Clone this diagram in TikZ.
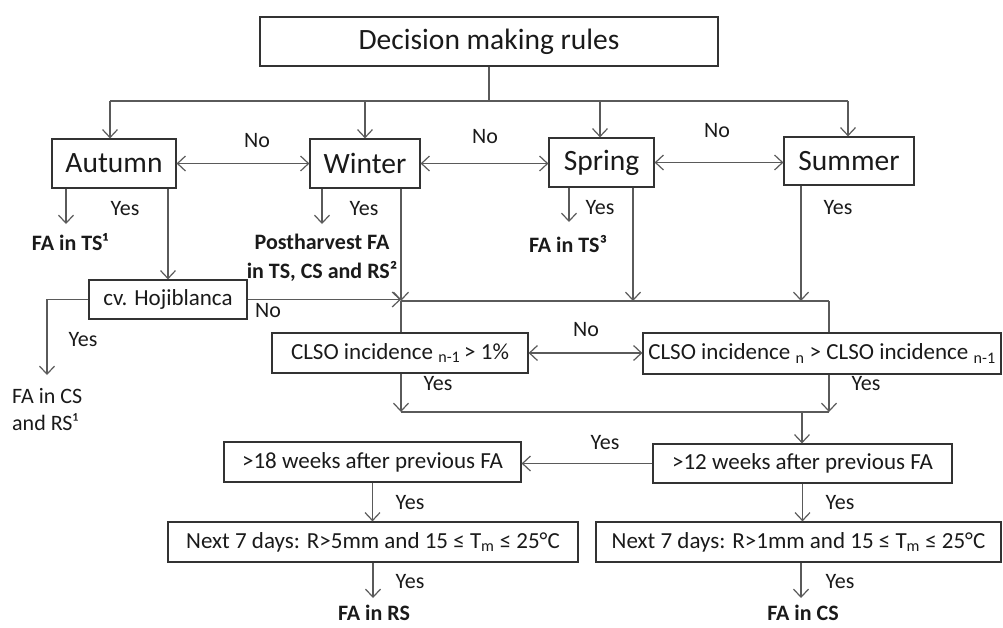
\documentclass[tikz,border=0pt]{standalone}
\usepackage{fontspec}
\setmainfont{Carlito}
\usetikzlibrary{arrows.meta}
\definecolor{lc}{HTML}{5A5A5A}
\definecolor{bc}{HTML}{333333}
\definecolor{tc}{HTML}{1A1A1A}
\begin{document}
\begin{tikzpicture}[x=1pt,y=-1pt,
 box/.style={draw=bc, line width=1.2pt, text=tc, inner sep=0pt, font=\fontsize{23}{27}\selectfont},
 big/.style={font=\fontsize{29.5}{34}\selectfont},
 lbl/.style={text=tc, inner sep=0pt, font=\fontsize{22}{26}\selectfont},
 blbl/.style={text=tc, inner sep=0pt, font=\fontsize{22}{29}\selectfont\bfseries, align=center},
 ln/.style={draw=lc, line width=1.2pt},
 arr/.style={ln, -{Straight Barb[length=8pt,width=15pt]}},
 darr/.style={ln, {Straight Barb[length=8pt,width=15pt]}-{Straight Barb[length=8pt,width=15pt]}}]
\useasboundingbox (0,0) rectangle (1003,627);

% boxes
\node[box,big,minimum width=458pt,minimum height=49pt] (title) at (489,41.5) {Decision making rules};
\node[box,big,minimum width=124pt,minimum height=49pt] (autumn) at (114,163.5) {Autumn};
\node[box,big,minimum width=110pt,minimum height=49pt] (winter) at (365,163.5) {Winter};
\node[box,big,minimum width=105pt,minimum height=49pt] (spring) at (601.5,162.5) {Spring};
\node[box,big,minimum width=130pt,minimum height=48pt] (summer) at (849,161) {Summer};
\node[box,minimum width=158pt,minimum height=39pt] (hoj) at (168,299.5) {cv. Hojiblanca};
\node[box,minimum width=256pt,minimum height=40pt] (c1) at (400,353) {CLSO incidence \textsubscript{n-1}\,> 1\%};
\node[box,minimum width=358pt,minimum height=41pt] (c2) at (822,353.5) {CLSO incidence \textsubscript{n} > CLSO incidence \textsubscript{n-1}};
\node[box,minimum width=297pt,minimum height=40pt] (w18) at (372.5,462) {>18 weeks after previous FA};
\node[box,minimum width=299pt,minimum height=39pt] (w12) at (802.5,463.5) {>12 weeks after previous FA};
\node[box,minimum width=410pt,minimum height=40pt] (d5) at (373,542) {Next 7 days: R>5mm and 15 ≤ T\textsubscript{m} ≤ 25°C};
\node[box,minimum width=405pt,minimum height=40pt] (d1) at (798.5,542) {Next 7 days: R>1mm and 15 ≤ T\textsubscript{m} ≤ 25°C};

% results
\node[blbl] (rA) at (70,242) {FA in TS¹};
\node[blbl] (rW) at (322,258) {Postharvest FA\\in TS, CS and RS²};
\node[blbl] (rS) at (568,244) {FA in TS³};
\node[lbl, align=left, font=\fontsize{22}{27}\selectfont, anchor=west] (rH) at (12,410) {FA in CS\\and RS¹};
\node[blbl] (rRS) at (374,613) {FA in RS};
\node[blbl] (rCS) at (803,613) {FA in CS};

% labels
\node[lbl] (no1) at (257,141) {No};
\node[lbl] (no2) at (485,137) {No};
\node[lbl] (no3) at (717,131) {No};
\node[lbl] (no4) at (268,311) {No};
\node[lbl] (no5) at (586,330) {No};
\node[lbl] (y1) at (125,209) {Yes};
\node[lbl] (y2) at (364,209) {Yes};
\node[lbl] (y3) at (600,208) {Yes};
\node[lbl] (y4) at (838,208) {Yes};
\node[lbl] (y5) at (83,340) {Yes};
\node[lbl] (y6) at (438,384) {Yes};
\node[lbl] (y7) at (866,384) {Yes};
\node[lbl] (y8) at (605,443) {Yes};
\node[lbl] (y9) at (410,503) {Yes};
\node[lbl] (y10) at (840,503) {Yes};
\node[lbl] (y11) at (410,582) {Yes};
\node[lbl] (y12) at (840,582) {Yes};

% coordinates
\coordinate (t0) at (489,101);
\coordinate (bA) at (110,101);
\coordinate (bW) at (365,101);
\coordinate (bS) at (600,101);
\coordinate (bU) at (848,101);
\coordinate (aY) at (66,224);
\coordinate (wY) at (322,224);
\coordinate (sY) at (569,222);
\coordinate (m1) at (401,301);
\coordinate (m2) at (829,301);
\coordinate (sD) at (633,301);
\coordinate (uD) at (801,301);
\coordinate (m3) at (401,412);
\coordinate (m4) at (829,412);
\coordinate (m5) at (802,412);
\coordinate (hY) at (47,375);
\coordinate (e5) at (373,598);
\coordinate (e1) at (801,598);

% connectors
\draw[ln] (title.south) -- (t0);
\draw[ln] (bA) -- (bU);
\draw[arr] (bA) -- (bA |- autumn.north);
\draw[arr] (bW) -- (bW |- winter.north);
\draw[arr] (bS) -- (bS |- spring.north);
\draw[arr] (bU) -- (bU |- summer.north);
\draw[darr] (autumn.east) -- (autumn.east -| winter.west);
\draw[darr] (winter.east) -- (winter.east -| spring.west);
\draw[darr] (spring.east) -- (spring.east -| summer.west);
\draw[arr] (aY |- autumn.south) -- (aY);
\draw[arr] (wY |- winter.south) -- (wY);
\draw[arr] (sY |- spring.south) -- (sY);
\draw[arr] (autumn.south -| hoj.north) -- (hoj.north);
\draw[arr] (hoj.west) -| (hY);
\draw[arr] (winter.south -| m1) -- (m1);
\draw[arr] (hoj.east) -- (hoj.east -| m1);
\draw[arr] (sD |- spring.south) -- (sD);
\draw[arr] (uD |- summer.south) -- (uD);
\draw[ln] (m1) -- (m2);
\draw[ln] (m1) -- (m1 |- c1.north);
\draw[ln] (m2) -- (m2 |- c2.north);
\draw[darr] (c1.east) -- (c1.east -| c2.west);
\draw[arr] (m3 |- c1.south) -- (m3);
\draw[arr] (m4 |- c2.south) -- (m4);
\draw[ln] (m3) -- (m4);
\draw[arr] (m5) -- (m5 |- w12.north);
\draw[arr] (w12.west) -- (w12.west -| w18.east);
\draw[arr] (w18.south) -- (w18.south |- d5.north);
\draw[arr] (w12.south) -- (w12.south |- d1.north);
\draw[arr] (e5 |- d5.south) -- (e5);
\draw[arr] (e1 |- d1.south) -- (e1);
\end{tikzpicture}
\end{document}
